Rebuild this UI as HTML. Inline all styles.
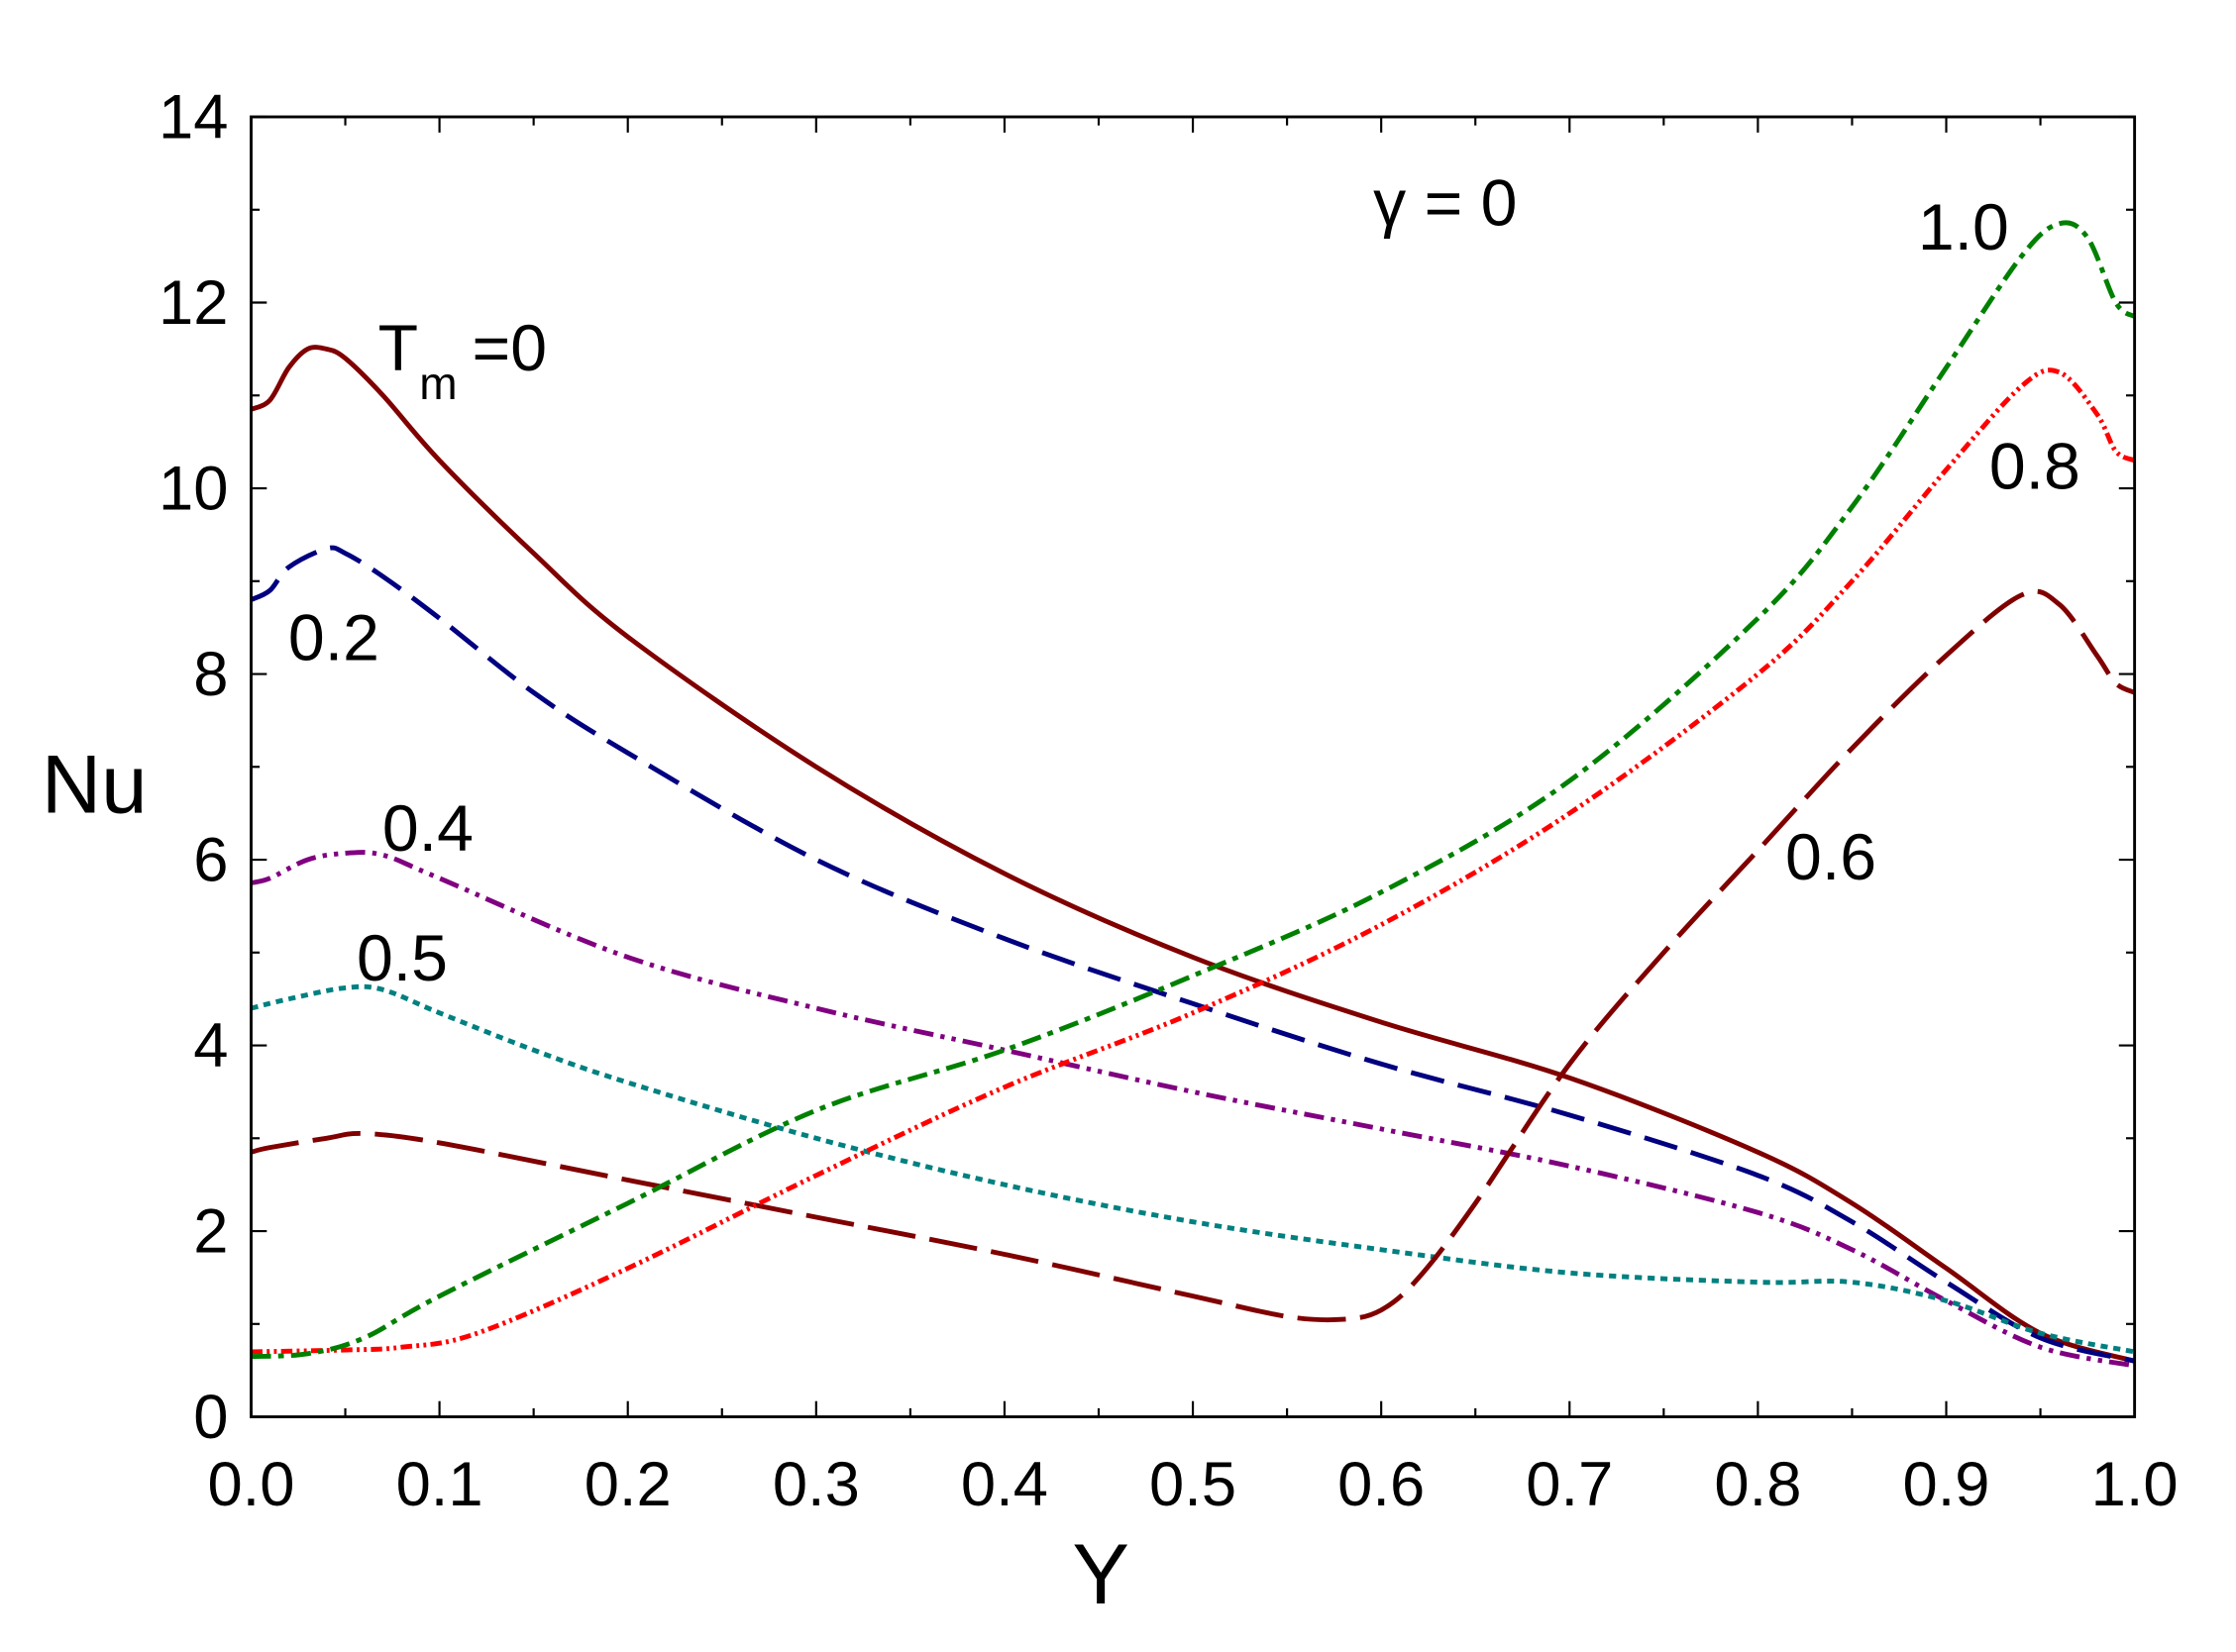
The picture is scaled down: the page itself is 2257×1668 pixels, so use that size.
<!DOCTYPE html>
<html><head><meta charset="utf-8"><style>
html,body{margin:0;padding:0;background:#fff}
svg{display:block}
text{font-family:"Liberation Sans",Arial,sans-serif;fill:#000}
</style></head><body>
<svg id="s" width="2257" height="1668" viewBox="0 0 1568 1159" xmlns="http://www.w3.org/2000/svg">
<rect x="0" y="0" width="1568" height="1159" fill="#fff"/>
<g id="curves" fill="none" stroke-width="3.4"></g>
<rect x="176" y="82" width="1321" height="912" fill="none" stroke="#000" stroke-width="2"/>
<g id="ticks" stroke="#000" stroke-width="1.5"></g>
<g id="labels" font-size="44"></g>
<text x="66" y="570" font-size="58" text-anchor="middle">Nu</text>
<text x="772" y="1125" font-size="60" text-anchor="middle">Y</text>
<text x="963" y="158" font-size="46">γ = 0</text>
<text x="265" y="260" font-size="46">T</text>
<text x="294" y="280" font-size="32">m</text>
<text x="331" y="260" font-size="46">=0</text>
<text x="202" y="463" font-size="46">0.2</text>
<text x="268" y="597" font-size="46">0.4</text>
<text x="250" y="688" font-size="46">0.5</text>
<text x="1252" y="617" font-size="46">0.6</text>
<text x="1395" y="343" font-size="46">0.8</text>
<text x="1345" y="175" font-size="46">1.0</text>
</svg>
<script>
var NS="http://www.w3.org/2000/svg";
function X(v){return 176+1321*v}
function Y(v){return 994-65.143*v}
var series=[
["#800000","",[[0,10.85],[0.01,10.95],[0.02,11.3],[0.03,11.5],[0.04,11.5],[0.05,11.4],[0.07,11.0],[0.1,10.3],[0.15,9.3],[0.2,8.4],[0.3,7.0],[0.4,5.85],[0.5,4.95],[0.6,4.25],[0.7,3.65],[0.8,2.85],[0.85,2.3],[0.9,1.6],[0.95,0.9],[1.0,0.6]]],
["#000080","24 10",[[0,8.8],[0.01,8.9],[0.02,9.15],[0.04,9.35],[0.05,9.3],[0.07,9.05],[0.1,8.6],[0.15,7.8],[0.2,7.15],[0.3,6.0],[0.4,5.15],[0.5,4.45],[0.6,3.8],[0.7,3.25],[0.8,2.6],[0.85,2.1],[0.9,1.45],[0.95,0.85],[1.0,0.6]]],
["#800080","14 5 3 5 3 5",[[0,5.75],[0.01,5.8],[0.03,6.0],[0.05,6.07],[0.07,6.05],[0.1,5.8],[0.2,4.95],[0.3,4.4],[0.4,3.95],[0.5,3.5],[0.6,3.1],[0.7,2.7],[0.8,2.2],[0.85,1.8],[0.9,1.25],[0.95,0.75],[1.0,0.55]]],
["#008080","5 4",[[0,4.4],[0.02,4.5],[0.05,4.62],[0.07,4.6],[0.1,4.35],[0.15,3.95],[0.2,3.6],[0.3,3.0],[0.4,2.5],[0.5,2.1],[0.6,1.8],[0.7,1.55],[0.8,1.45],[0.85,1.45],[0.9,1.25],[0.95,0.9],[1.0,0.7]]],
["#800000","34 10",[[0,2.85],[0.01,2.9],[0.04,3.0],[0.06,3.05],[0.1,2.95],[0.2,2.55],[0.3,2.15],[0.4,1.75],[0.5,1.3],[0.55,1.08],[0.58,1.05],[0.6,1.15],[0.62,1.5],[0.65,2.3],[0.7,3.8],[0.75,5.0],[0.8,6.1],[0.85,7.2],[0.9,8.2],[0.94,8.85],[0.96,8.75],[0.98,8.2],[0.99,7.9],[1.0,7.8]]],
["#ff0000","8 3 2 3 2 3",[[0,0.7],[0.05,0.72],[0.08,0.75],[0.12,0.9],[0.2,1.6],[0.3,2.6],[0.4,3.55],[0.5,4.35],[0.6,5.3],[0.7,6.5],[0.8,8.0],[0.85,9.0],[0.9,10.2],[0.94,11.1],[0.96,11.25],[0.98,10.8],[0.99,10.4],[1.0,10.3]]],
["#008000","14 5 4 5",[[0,0.65],[0.03,0.68],[0.06,0.85],[0.1,1.3],[0.2,2.3],[0.3,3.3],[0.4,3.95],[0.5,4.75],[0.6,5.65],[0.7,6.85],[0.8,8.6],[0.85,9.8],[0.9,11.3],[0.94,12.5],[0.96,12.85],[0.975,12.7],[0.99,12.0],[1.0,11.85]]]
];
var g=document.getElementById("curves");
series.forEach(function(s){
 var p=s[2].map(function(a){return [X(a[0]),Y(a[1])]});
 var d="M"+p[0][0]+","+p[0][1];
 for(var i=0;i<p.length-1;i++){
  var p0=p[i-1]||p[i],p1=p[i],p2=p[i+1],p3=p[i+2]||p2;
  d+=" C"+(p1[0]+(p2[0]-p0[0])/6)+","+(p1[1]+(p2[1]-p0[1])/6)+" "+(p2[0]-(p3[0]-p1[0])/6)+","+(p2[1]-(p3[1]-p1[1])/6)+" "+p2[0]+","+p2[1];
 }
 var e=document.createElementNS(NS,"path");
 e.setAttribute("d",d);e.setAttribute("stroke",s[0]);
 if(s[1])e.setAttribute("stroke-dasharray",s[1]);
 g.appendChild(e);
});
var t=document.getElementById("ticks"),L=document.getElementById("labels");
function line(x1,y1,x2,y2){var e=document.createElementNS(NS,"line");e.setAttribute("x1",x1);e.setAttribute("y1",y1);e.setAttribute("x2",x2);e.setAttribute("y2",y2);t.appendChild(e);}
function txt(x,y,s,a){var e=document.createElementNS(NS,"text");e.setAttribute("x",x);e.setAttribute("y",y);e.setAttribute("text-anchor",a);e.textContent=s;L.appendChild(e);}
for(var i=0;i<=20;i++){var x=X(i/20),len=i%2?6:11;line(x,994,x,994-len);line(x,82,x,82+len);
 if(i%2==0)txt(x,1056,(i/20).toFixed(1),"middle");}
for(var j=0;j<=14;j++){var y=Y(j),len=j%2?6:11;line(176,y,176+len,y);line(1497,y,1497-len,y);
 if(j%2==0)txt(160,y+15,String(j),"end");}
</script>
</body></html>
